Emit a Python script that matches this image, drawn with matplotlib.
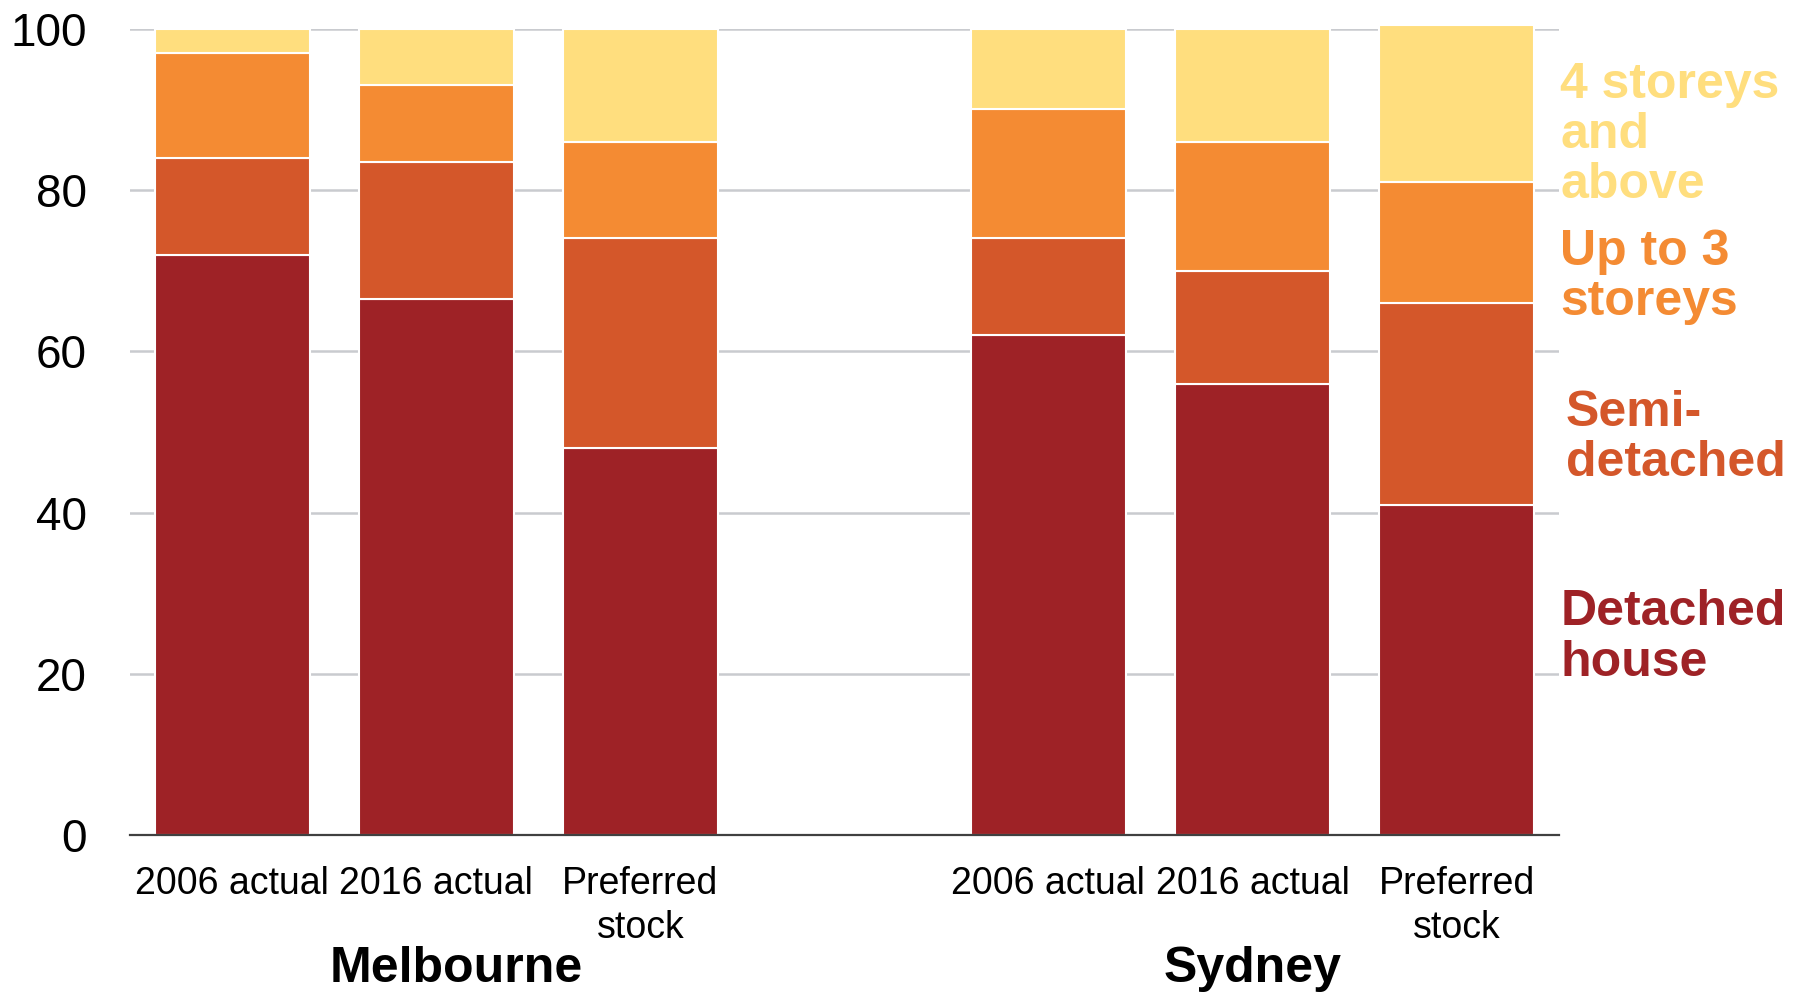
import matplotlib.pyplot as plt
import numpy as np

plt.rcParams['font.family'] = ['Liberation Sans', 'DejaVu Sans']

bar_labels = ["2006 actual", "2016 actual", "Preferred\nstock",
              "2006 actual", "2016 actual", "Preferred\nstock"]
cities = ["Melbourne", "Sydney"]
detached = [72, 66.5, 48, 62, 56, 41]
semi = [12, 17, 26, 12, 14, 25]
up_to_3 = [13, 9.5, 12, 16, 16, 15]
four_plus = [3, 7, 14, 10, 14, 19.5]

series = [
    ("Detached\nhouse", detached, "#9E2226"),
    ("Semi-\ndetached", semi, "#D4572A"),
    ("Up to 3\nstoreys", up_to_3, "#F48B33"),
    ("4 storeys\nand\nabove", four_plus, "#FFDE7E"),
]

x = np.array([0, 1, 2, 4, 5, 6])

fig = plt.figure(figsize=(18.06, 9.93), dpi=100)
ax = fig.add_axes([0.072, 0.159, 0.791, 0.812])

bottom = np.zeros(len(x))
for name, vals, col in series:
    ax.bar(x, vals, width=0.76, bottom=bottom, color=col,
           edgecolor="white", linewidth=1.5, zorder=3, clip_on=False)
    bottom += np.array(vals)

ax.set_xlim(-0.5, 6.5)
ax.set_ylim(0, 100)
ax.set_yticks([0, 20, 40, 60, 80, 100])
ax.yaxis.grid(True, color="#C9CBCF", linewidth=1.8, zorder=0)
ax.set_axisbelow(True)
for s in ["top", "right", "left"]:
    ax.spines[s].set_visible(False)
ax.spines["bottom"].set_color("#404040")
ax.spines["bottom"].set_linewidth(1.6)
ax.spines["bottom"].set_zorder(4)

ax.tick_params(axis="y", length=0, pad=31, labelsize=33)
ax.tick_params(axis="x", length=0, pad=22, labelsize=27)
ax.set_xticks(x)
ax.set_xticklabels(bar_labels, linespacing=1.3)

# city names under each group
for cx, city in zip([1.1, 5.0], cities):
    ax.text(cx, -0.137, city, transform=ax.get_xaxis_transform(),
            ha="center", va="top", fontsize=36, fontweight="bold")

# labels at the right instead of a legend
label_pos = [(0.864, 0.358), (0.867, 0.559), (0.864, 0.721), (0.864, 0.864)]
for (name, vals, col), (lx, ly) in zip(series, label_pos):
    fig.text(lx, ly, name, color=col, fontsize=36, fontweight="bold",
             ha="left", va="center", linespacing=1.12)

fig.savefig("out.png", dpi=100)
